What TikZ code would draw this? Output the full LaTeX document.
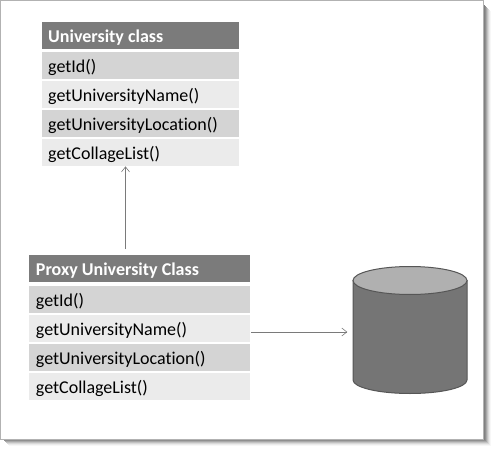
\documentclass[tikz,border=0pt]{standalone}
\usepackage{fontspec}
\setmainfont{Carlito}[Ligatures=NoCommon]
\usetikzlibrary{arrows.meta}
\definecolor{headfill}{HTML}{7B7B7B}
\definecolor{rowdark}{HTML}{D4D4D4}
\definecolor{rowlight}{HTML}{EBEBEB}
\definecolor{cylbody}{HTML}{757575}
\definecolor{cyltop}{HTML}{B0B0B0}
\definecolor{cylline}{HTML}{565656}
\definecolor{linkgrey}{HTML}{7A7A7A}
\tikzset{
  x=1pt,y=-1pt,
  cell/.style={anchor=north west,minimum height=27pt,inner sep=0pt,align=flush left,text height=14pt,text depth=1pt,font=\fontsize{18}{20}\selectfont,text=black},
  headcell/.style={cell,fill=headfill,text=white,font=\fontsize{18}{20}\selectfont\bfseries},
  darkcell/.style={cell,fill=rowdark},
  lightcell/.style={cell,fill=rowlight},
  toprow/.style={minimum width=197.5pt,text width=184.5pt},
  botrow/.style={minimum width=221pt,text width=207.5pt},
  link/.style={draw=linkgrey,line width=0.7pt,-{Straight Barb[length=5pt,width=8pt,line width=0.6pt]}},
  cylbox/.style={minimum width=114pt,minimum height=127pt,inner sep=0pt},
  cylpart/.style={draw=cylline,line width=1pt},
}
\begin{document}
\begin{tikzpicture}
\useasboundingbox (0,0) rectangle (492,449);
\fill[white] (0,0) rectangle (492,449);
% drop shadow of the frame
\foreach \d/\c in {7/97,6/92,5/85,4/76,3/66,2/56,1/50}{
  \fill[black!\the\numexpr 100-\c\relax] (4+\d-2,6+\d-2) rectangle (484+\d,439+\d);
}
\draw[draw=black!30,fill=white,line width=1pt] (0.8,0.6) rectangle (483.5,439);

\node[headcell,toprow] (uhead) at (41.5,22) {University class};
\node[darkcell,toprow] (uid) at (41.5,52) {getId()};
\node[lightcell,toprow] (uname) at (41.5,81) {getUniversityName()};
\node[darkcell,toprow] (uloc) at (41.5,110) {getUniversityLocation()};
\node[lightcell,toprow] (ulist) at (41.5,139) {getCollageList()};

\node[headcell,botrow] (phead) at (29,255) {Proxy University Class};
\node[darkcell,botrow] (pid) at (29,286) {getId()};
\node[lightcell,botrow] (pname) at (29,315) {getUniversityName()};
\node[darkcell,botrow] (ploc) at (29,344) {getUniversityLocation()};
\node[lightcell,botrow] (plist) at (29,373) {getCollageList()};

\node[cylbox] (db) at (410,332) {};
\path[cylpart,fill=cylbody] (353,280.5) -- (353,380) arc[start angle=180,end angle=360,x radius=57,y radius=-13.5] -- (467,280.5) -- cycle;
\path[cylpart,fill=cyltop] (410,280.5) ellipse[x radius=57,y radius=14];

\coordinate (upstart) at (125.5,249);
\coordinate (rightstart) at (251,332);
\draw[link] (upstart) -- (upstart |- ulist.south);
\draw[link,shorten >=5.5pt] (rightstart) -- (rightstart -| db.west);
\end{tikzpicture}
\end{document}
